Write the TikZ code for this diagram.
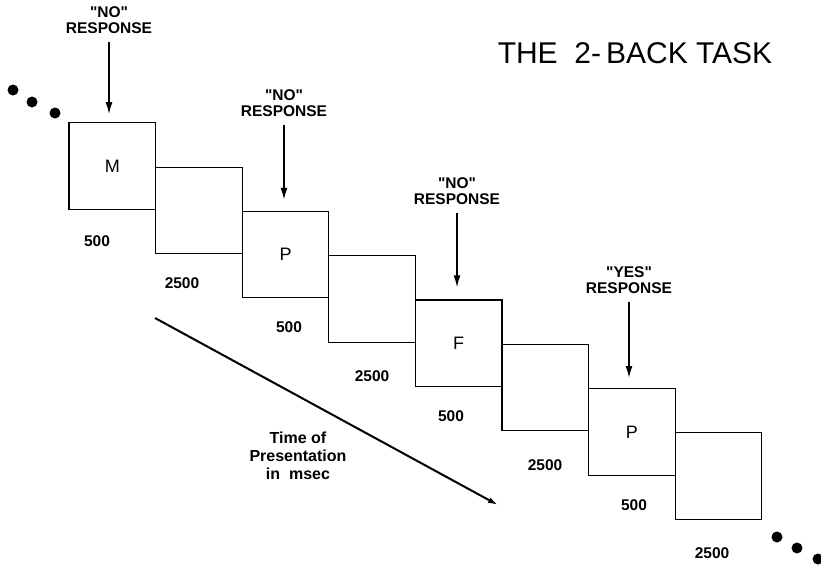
\documentclass[tikz,border=0pt]{standalone}
\usepackage{fontspec}
\setmainfont{Liberation Sans}
\usetikzlibrary{arrows.meta}
\newcommand{\qq}{\textquotedbl}
\tikzset{
  stim/.style={draw, line width=1.1pt, minimum width=86.6pt, minimum height=86.5pt, inner sep=0pt, font=\fontsize{18}{20}\selectfont},
  resplabel/.style={inner sep=0pt, align=center, font=\bfseries\fontsize{15.5}{16.5}\selectfont},
  num/.style={inner sep=0pt, font=\bfseries\fontsize{15.5}{17}\selectfont},
  resparrow/.style={line width=1.6pt, -{Latex[length=12pt,width=7pt]}},
  timearrow/.style={line width=2pt, -{Latex[length=10pt,width=6pt]}},
  dot/.style={circle, fill=black, inner sep=0pt, minimum size=11pt},
}
\begin{document}
\begin{tikzpicture}[x=1pt,y=-1pt]
\useasboundingbox (0,0) rectangle (821,566);
% boxes
\node[stim] (b0) at (112.3,166.0) {M};
\node[stim] (b1) at (198.9,210.3) {};
\node[stim] (b2) at (285.5,254.6) {P};
\node[stim] (b3) at (372.1,298.9) {};
\node[stim] (b4) at (458.7,343.2) {F};
\node[stim] (b5) at (545.3,387.5) {};
\node[stim] (b6) at (631.9,431.8) {P};
\node[stim] (b7) at (718.5,476.1) {};
% title
\node[inner sep=0pt, font=\fontsize{30}{32}\selectfont] (title) at (635,53) {THE\ \ 2-\,BACK TASK};
% responses
\node[resplabel] (r0) at (109,20) {\qq NO\qq\\RESPONSE};
\node[resplabel] (r2) at (284,103) {\qq NO\qq\\RESPONSE};
\node[resplabel] (r4) at (457,191) {\qq NO\qq\\RESPONSE};
\node[resplabel] (r6) at (629,280) {\qq YES\qq\\RESPONSE};
\draw[resparrow] ([yshift=-8pt]r0.south) -- ([yshift=8pt]r0.south |- b0.north);
\draw[resparrow] ([yshift=-8pt]r2.south) -- ([yshift=11pt]r2.south |- b2.north);
\draw[resparrow] ([yshift=-8pt]r4.south) -- ([yshift=12pt]r4.south |- b4.north);
\draw[resparrow] ([yshift=-8pt]r6.south) -- ([yshift=10pt]r6.south |- b6.north);
% durations
\node[num] (n0) at (97,241) {500};
\node[num] (n1) at (182,283) {2500};
\node[num] (n2) at (289,327) {500};
\node[num] (n3) at (372,376) {2500};
\node[num] (n4) at (451,416) {500};
\node[num] (n5) at (545,465) {2500};
\node[num] (n6) at (634,505) {500};
\node[num] (n7) at (712,553) {2500};
% time arrow
\coordinate (t0) at (155,318);
\coordinate (t1) at (498,505);
\draw[timearrow] (t0) -- (t1);
\node[resplabel, font=\bfseries\fontsize{16}{18}\selectfont] (tl) at (298,456) {Time of\\Presentation\\in\ \ msec};
% dots
\node[dot] (d1) at (13,90) {};
\node[dot] (d2) at (32,102) {};
\node[dot] (d3) at (55,113) {};
\node[dot] (d4) at (777,537) {};
\node[dot] (d5) at (797,548) {};
\node[dot] (d6) at (818,559) {};
\end{tikzpicture}
\end{document}
